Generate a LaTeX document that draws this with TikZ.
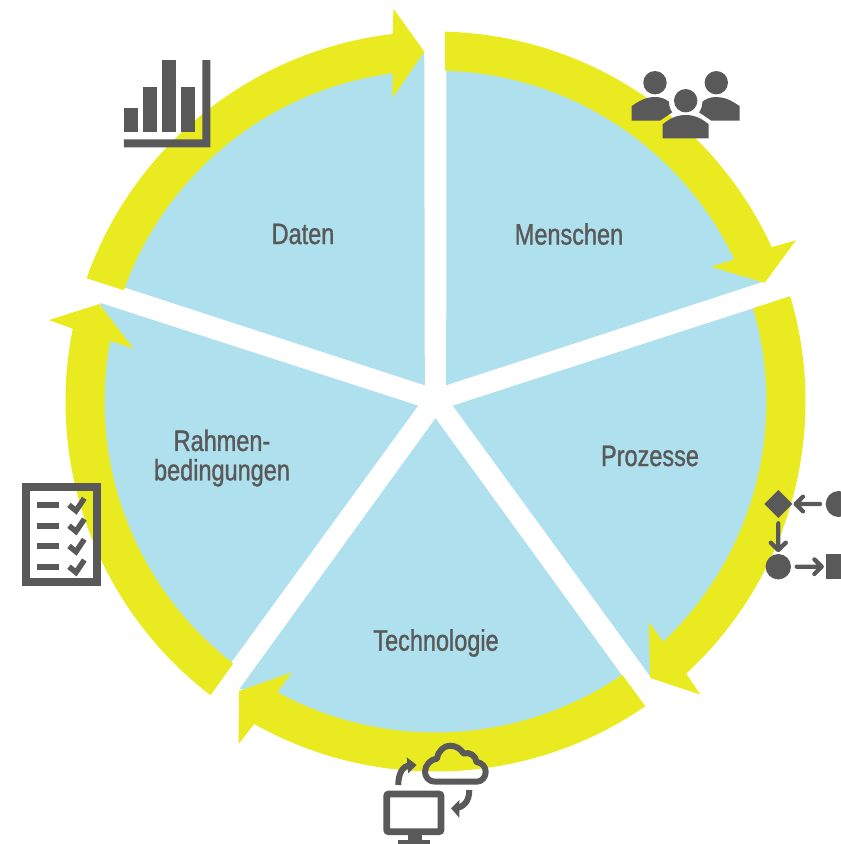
\documentclass[tikz,border=0pt]{standalone}
\usepackage{fontspec}
\setmainfont[FakeStretch=.795,FakeBold=1.1]{Liberation Sans}
\usepackage{tikz}
\definecolor{ringyellow}{RGB}{233,235,32}
\definecolor{wedgeblue}{RGB}{174,224,237}
\definecolor{icongray}{RGB}{89,89,89}
\tikzset{
  lbl/.style={text=icongray,align=center,font=\fontsize{8.4pt}{8.35pt}\selectfont},
  iconline/.style={draw=icongray,line width=.043cm,line cap=round,line join=round},
  ringarrow/.pic={
    \fill[ringyellow] (88.55:370) arc[start angle=88.55,end angle=24.66,radius=370] -- (24.1:395) -- (19.83:350) -- (26.07:306.7) -- (25.45:331) arc[start angle=25.45,end angle=88.35,radius=331] -- cycle;
  },
  bluewedge/.pic={
    \fill[wedgeblue] (54:18.2) -- (19.85:349) -- (24:340) arc[start angle=24,end angle=88.15,radius=340] -- cycle;
  }
}
\begin{document}
\begin{tikzpicture}[x=.01cm,y=-.01cm]
%\draw[step=100,color=gray] (0,0) grid (841,844);
\clip (0,0) rectangle (841,844);
\begin{scope}[shift={(435.5,401.5)},xscale=1.003,y=.01cm]
\pic[rotate=0] at (0,1.5) {bluewedge};
\pic[rotate=-72] at (0,1.5) {bluewedge};
\pic[rotate=-144] at (0,1.5) {bluewedge};
\pic[rotate=-216] at (0,1.5) {bluewedge};
\pic[rotate=-288] at (0,1.5) {bluewedge};
\pic[rotate=0] at (0,0) {ringarrow};
\pic[rotate=-72] at (0,0) {ringarrow};
\pic[rotate=-144] at (0,0) {ringarrow};
\pic[rotate=-216] at (0,0) {ringarrow};
\pic[rotate=-288] at (0,0) {ringarrow};
\end{scope}
\node[lbl] (menschen) at (569,234) {Menschen};
\node[lbl] (prozesse) at (650,456) {Prozesse};
\node[lbl] (technologie) at (436,643) {Technologie};
\node[lbl] (rahmen) at (222,458) {Rahmen-\\bedingungen};
\node[lbl] (daten) at (303,234) {Daten};
% people
\fill[icongray] (655,82.7) circle (11.7);
\fill[icongray] (716.3,82.7) circle (11.7);
\fill[icongray] (685.7,100.7) circle (11.7);
\fill[icongray] (631.7,120.7) -- (631.7,106.2) .. controls (640,100) and (647,97) .. (655,97) .. controls (661,97) and (665.5,98.8) .. (669,101.7) .. controls (669,105) and (670,109.5) .. (672.3,112.3) -- (660,120.7) -- cycle;
\fill[icongray] (739.7,120.7) -- (739.7,106.2) .. controls (731,100) and (724,97) .. (716.3,97) .. controls (710.4,97) and (705.9,98.8) .. (702.4,101.7) .. controls (702.4,105) and (701.4,109.5) .. (699.1,112.3) -- (711.4,120.7) -- cycle;
\fill[icongray] (662.7,138.3) -- (662.7,124.2) .. controls (670.7,117.7) and (677.7,115) .. (685.7,115) .. controls (693.7,115) and (700.7,117.7) .. (708.7,124.2) -- (708.7,138.3) -- cycle;
% process
\fill[icongray] (778.3,490) -- (792.3,504) -- (778.3,518) -- (764.3,504) -- cycle;
\fill[icongray] (838.7,504) circle (13);
\fill[icongray] (778.3,566.7) circle (12.7);
\fill[icongray] (825.7,554) rectangle (841,579.3);
\draw[iconline] (820,504) -- (795.7,504) (803,496.7) -- (795.7,504) -- (803,511.3);
\draw[iconline] (778.3,523.3) -- (778.3,550) (770.8,542.7) -- (778.3,550) -- (785.8,542.7);
\draw[iconline] (796.7,566.7) -- (821.7,566.7) (814.4,559.4) -- (821.7,566.7) -- (814.4,574);
% cloud and screen
\draw[icongray,line width=.06cm,line join=round] (435,781.7) .. controls (429,781.7) and (425,777) .. (425,771.7) .. controls (425,765) and (431,759) .. (437,758.7) .. controls (438,751) and (444,745.7) .. (450,745.7) .. controls (456,745.7) and (461,749) .. (463.5,753.5) .. controls (470,751.5) and (476,756) .. (476.5,762) .. controls (482,762.5) and (485.7,767) .. (485.7,771.7) .. controls (485.7,777) and (482,781.7) .. (476.7,781.7) -- cycle;
\draw[icongray,line width=.067cm,rounded corners=.02cm] (386.7,794) rectangle (441,831.7);
\fill[icongray] (408.3,835) rectangle (422.3,840);
\fill[icongray] (398.3,840) rectangle (430,844);
\draw[icongray,line width=.06cm] (398.3,785) .. controls (398.3,773) and (403,766) .. (410,765);
\fill[icongray] (406.7,757.3) -- (416.7,765) -- (408.3,773.3) -- cycle;
\draw[icongray,line width=.06cm] (469.3,790) .. controls (469.3,801) and (464,807) .. (456,808);
\fill[icongray] (459.3,800) -- (451,808.3) -- (459.3,817.7) -- cycle;
% checklist
\draw[icongray,line width=.077cm] (25.7,487.3) rectangle (97.2,582.2);
\foreach \y in {505,525.7,546,566.7} {
  \fill[icongray] (37.3,\y-3) rectangle (59.3,\y+3);
  \draw[icongray,line width=.055cm] (69,\y) -- (76,\y+5.7) -- (84.3,\y-6.7);
}
% chart
\fill[icongray] (124,108.3) rectangle (137.7,132);
\fill[icongray] (143,87) rectangle (157,132);
\fill[icongray] (162.3,60) rectangle (176,132);
\fill[icongray] (181.3,87) rectangle (195.3,132);
\fill[icongray] (202.3,60) -- (210.3,60) -- (210.3,147.3) -- (124,147.3) -- (124,139.3) -- (202.3,139.3) -- cycle;
\end{tikzpicture}
\end{document}
